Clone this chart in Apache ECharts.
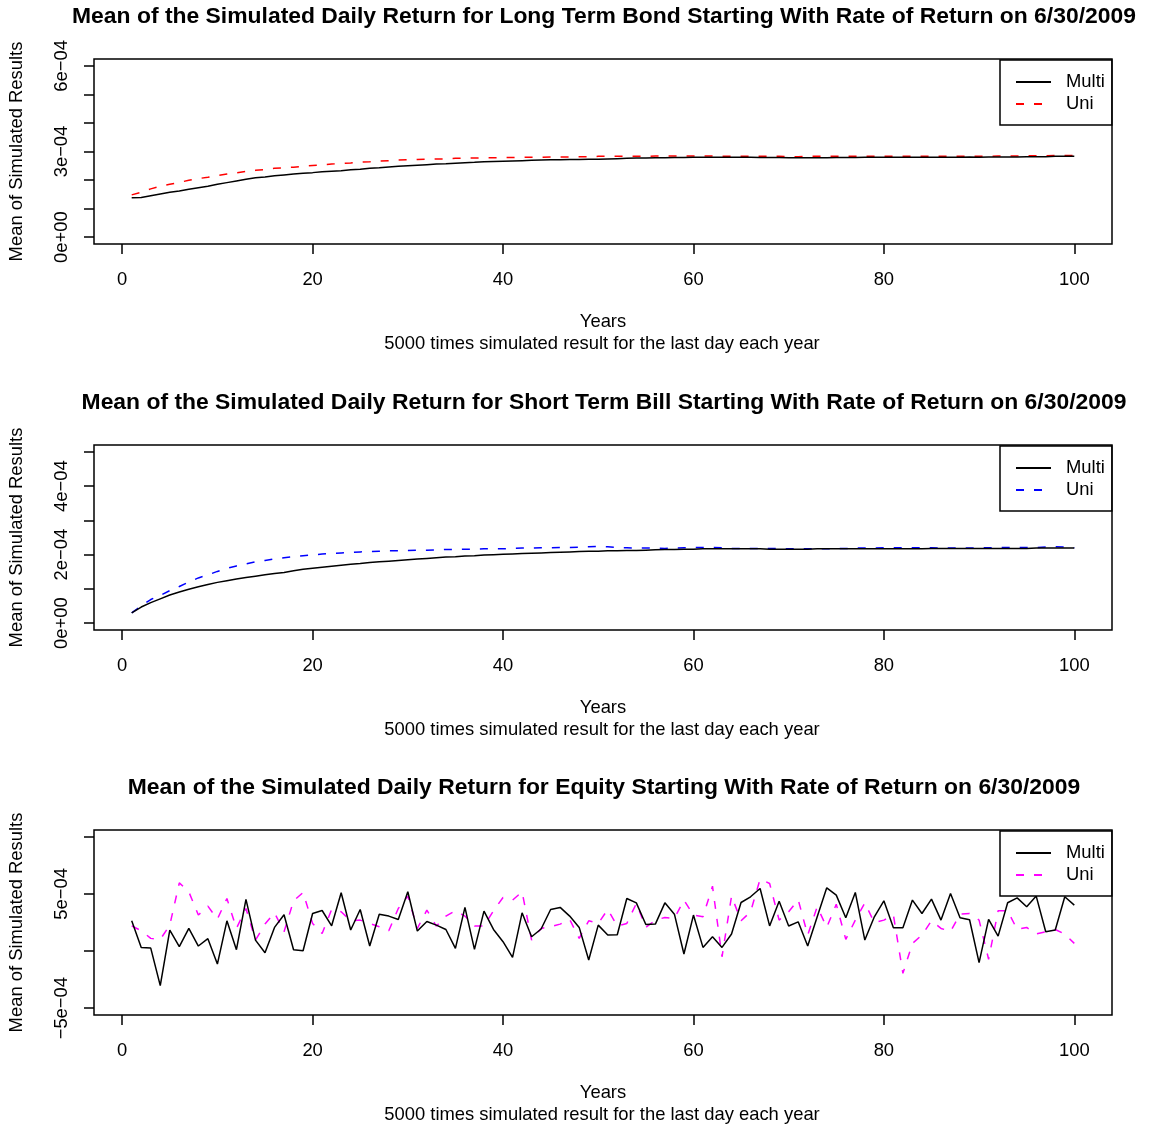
<!DOCTYPE html>
<html>
<head>
<meta charset="utf-8">
<script src="https://cdn.jsdelivr.net/npm/echarts@6/dist/echarts.min.js"></script>
<style>
  html, body { margin: 0; padding: 0; background: #fff; }
  #chart { width: 1150px; height: 1126px; }
</style>
</head>
<body>
<div id="chart"></div>
<script>
// Years (x categories)
const years = Array.from({ length: 100 }, (_, i) => i + 1);

// All series values are in units of 1e-4
const bondMulti = [
  1.38, 1.39, 1.45, 1.51, 1.57, 1.62, 1.68, 1.73, 1.78, 1.85,
  1.91, 1.97, 2.03, 2.08, 2.11, 2.15, 2.18, 2.21, 2.24, 2.26,
  2.29, 2.31, 2.33, 2.36, 2.38, 2.41, 2.43, 2.46, 2.48, 2.50,
  2.52, 2.54, 2.56, 2.57, 2.59, 2.61, 2.62, 2.64, 2.65, 2.66,
  2.67, 2.68, 2.69, 2.70, 2.71, 2.71, 2.72, 2.72, 2.73, 2.73,
  2.74, 2.75, 2.76, 2.77, 2.77, 2.78, 2.78, 2.79, 2.79, 2.80,
  2.80, 2.80, 2.80, 2.80, 2.80, 2.80, 2.79, 2.79, 2.79, 2.78,
  2.78, 2.78, 2.78, 2.78, 2.79, 2.79, 2.79, 2.80, 2.80, 2.80,
  2.80, 2.80, 2.80, 2.80, 2.80, 2.80, 2.80, 2.80, 2.81, 2.80,
  2.81, 2.81, 2.81, 2.81, 2.82, 2.82, 2.82, 2.83, 2.83, 2.83
];
const bondUni = [
  1.48, 1.57, 1.69, 1.78, 1.85, 1.92, 1.99, 2.05, 2.10, 2.16,
  2.21, 2.25, 2.30, 2.34, 2.37, 2.41, 2.43, 2.45, 2.48, 2.51,
  2.53, 2.56, 2.58, 2.60, 2.63, 2.64, 2.66, 2.68, 2.70, 2.71,
  2.72, 2.73, 2.74, 2.74, 2.76, 2.77, 2.77, 2.78, 2.78, 2.79,
  2.79, 2.80, 2.80, 2.80, 2.81, 2.81, 2.81, 2.82, 2.82, 2.83,
  2.83, 2.83, 2.83, 2.83, 2.83, 2.84, 2.84, 2.84, 2.84, 2.84,
  2.84, 2.84, 2.83, 2.83, 2.83, 2.83, 2.83, 2.83, 2.83, 2.82,
  2.82, 2.83, 2.83, 2.83, 2.83, 2.83, 2.83, 2.83, 2.83, 2.83,
  2.83, 2.83, 2.83, 2.83, 2.83, 2.83, 2.83, 2.83, 2.83, 2.83,
  2.83, 2.84, 2.84, 2.84, 2.85, 2.85, 2.85, 2.86, 2.86, 2.86
];
const billMulti = [
  0.30, 0.47, 0.60, 0.71, 0.82, 0.91, 0.99, 1.06, 1.13, 1.19,
  1.24, 1.29, 1.33, 1.37, 1.41, 1.45, 1.48, 1.53, 1.57, 1.60,
  1.63, 1.66, 1.69, 1.72, 1.74, 1.77, 1.79, 1.81, 1.83, 1.85,
  1.87, 1.89, 1.91, 1.93, 1.94, 1.96, 1.97, 1.99, 2.00, 2.01,
  2.02, 2.03, 2.04, 2.05, 2.06, 2.07, 2.08, 2.09, 2.10, 2.10,
  2.11, 2.11, 2.12, 2.12, 2.13, 2.14, 2.15, 2.15, 2.16, 2.16,
  2.17, 2.17, 2.17, 2.17, 2.17, 2.17, 2.17, 2.16, 2.16, 2.16,
  2.16, 2.16, 2.17, 2.17, 2.17, 2.17, 2.17, 2.17, 2.17, 2.17,
  2.17, 2.17, 2.17, 2.17, 2.18, 2.18, 2.18, 2.18, 2.18, 2.18,
  2.18, 2.18, 2.18, 2.18, 2.18, 2.19, 2.19, 2.19, 2.19, 2.19
];
const billUni = [
  0.30, 0.50, 0.69, 0.81, 0.95, 1.07, 1.20, 1.32, 1.41, 1.51,
  1.60, 1.67, 1.73, 1.79, 1.83, 1.88, 1.91, 1.94, 1.97, 1.99,
  2.02, 2.03, 2.05, 2.06, 2.08, 2.09, 2.10, 2.11, 2.11, 2.12,
  2.13, 2.13, 2.14, 2.15, 2.15, 2.16, 2.16, 2.17, 2.17, 2.17,
  2.18, 2.19, 2.19, 2.20, 2.20, 2.21, 2.21, 2.22, 2.23, 2.24,
  2.23, 2.21, 2.20, 2.19, 2.19, 2.19, 2.18, 2.19, 2.20, 2.21,
  2.21, 2.21, 2.20, 2.18, 2.18, 2.18, 2.18, 2.18, 2.18, 2.17,
  2.17, 2.17, 2.17, 2.17, 2.18, 2.18, 2.19, 2.19, 2.19, 2.20,
  2.20, 2.20, 2.20, 2.20, 2.20, 2.19, 2.19, 2.19, 2.19, 2.20,
  2.20, 2.21, 2.21, 2.21, 2.21, 2.21, 2.22, 2.23, 2.22, 2.20
];
const equityMulti = [
  2.65, 0.32, 0.26, -3.03, 1.84, 0.38, 1.98, 0.44, 1.08, -1.14,
  2.65, 0.12, 4.52, 0.96, -0.15, 2.07, 3.18, 0.12, 0.03, 3.29,
  3.55, 2.21, 5.10, 1.84, 3.64, 0.44, 3.23, 3.06, 2.77, 5.19,
  1.75, 2.59, 2.27, 1.89, 0.23, 3.82, 0.15, 3.50, 1.89, 0.82,
  -0.55, 3.35, 1.25, 1.93, 3.64, 3.82, 3.06, 2.07, -0.79, 2.27,
  1.40, 1.43, 4.60, 4.22, 2.33, 2.36, 4.22, 3.23, -0.26, 3.15,
  0.32, 1.25, 0.32, 1.49, 4.25, 4.75, 5.48, 2.20, 4.37, 2.19,
  2.56, 0.44, 3.00, 5.54, 4.90, 2.91, 5.13, 0.96, 3.00, 4.40,
  2.04, 2.04, 4.46, 3.29, 4.55, 2.71, 5.04, 2.92, 2.74, -1.02,
  2.77, 1.31, 4.23, 4.66, 3.88, 4.81, 1.69, 1.84, 4.75, 4.02
];
const equityUni = [
  2.21, 1.78, 1.11, 1.02, 2.27, 5.97, 5.19, 3.15, 3.93, 2.80,
  4.60, 1.98, 3.73, 0.96, 2.36, 3.35, 1.69, 4.40, 5.13, 2.42,
  1.54, 3.64, 3.44, 2.65, 2.71, 2.42, 2.13, 1.78, 3.73, 4.81,
  1.98, 3.58, 2.19, 3.06, 3.53, 3.06, 2.19, 2.19, 3.53, 4.69,
  4.46, 5.19, 0.96, 1.98, 2.13, 2.36, 2.77, 1.11, 2.65, 2.42,
  3.64, 2.19, 2.42, 4.16, 2.07, 2.71, 2.94, 2.86, 4.46, 3.15,
  3.00, 5.68, -0.50, 4.81, 2.65, 3.44, 6.30, 5.92, 2.71, 3.44,
  4.50, 1.40, 3.88, 2.07, 4.10, 1.02, 2.71, 4.22, 2.48, 2.71,
  3.15, -1.95, 0.67, 1.40, 2.65, 1.98, 1.72, 3.23, 3.29, 2.71,
  -0.72, 3.53, 3.53, 1.89, 2.07, 1.49, 1.69, 1.89, 1.49, 0.67
];

// Tick values / labels
const xTicks = [0, 20, 40, 60, 80, 100];
const bondYTicks = [0, 1, 2, 3, 4, 5, 6];
const bondYLabelValues = [0, 3, 6];
const bondYLabelText = ['0e+00', '3e\u221204', '6e\u221204'];
const billYTicks = [0, 1, 2, 3, 4, 5];
const billYLabelValues = [0, 2, 4];
const billYLabelText = ['0e+00', '2e\u221204', '4e\u221204'];
const equityYTicks = [-5, 0, 5, 10];
const equityYLabelValues = [-5, 5];
const equityYLabelText = ['\u22125e\u221204', '5e\u221204'];

const titles = [
  'Mean of the Simulated Daily Return for Long Term Bond Starting With Rate of Return on 6/30/2009',
  'Mean of the Simulated Daily Return for Short Term Bill Starting With Rate of Return on 6/30/2009',
  'Mean of the Simulated Daily Return for Equity Starting With Rate of Return on 6/30/2009'
];
const subCaption = '5000 times simulated result for the last day each year';
const xName = 'Years';
const yName = 'Mean of Simulated Results';

const FONT = 'Liberation Sans, Arial, Helvetica, sans-serif';
const FS = 18.4;

const panels = [
  { top: 59, multi: bondMulti, uni: bondUni, uniColor: '#FF0000', key: 'bond',
    ymin: -0.24, ymax: 6.24, ticks: bondYTicks, lv: bondYLabelValues, lt: bondYLabelText },
  { top: 445, multi: billMulti, uni: billUni, uniColor: '#0000FF', key: 'bill',
    ymin: -0.20, ymax: 5.20, ticks: billYTicks, lv: billYLabelValues, lt: billYLabelText },
  { top: 830, multi: equityMulti, uni: equityUni, uniColor: '#FF00FF', key: 'equity',
    ymin: -5.6, ymax: 10.6, ticks: equityYTicks, lv: equityYLabelValues, lt: equityYLabelText }
];

const option = {
  animation: false,
  backgroundColor: '#fff',
  textStyle: { fontFamily: FONT, color: '#000' },
  title: [],
  grid: [],
  xAxis: [],
  yAxis: [],
  legend: [],
  series: []
};

panels.forEach((p, i) => {
  option.title.push({
    text: titles[i], left: 604, top: p.top - 54, textAlign: 'center', padding: 0,
    textStyle: { fontSize: 22.9, fontWeight: 'bold', fontFamily: FONT, color: '#000' }
  });
  option.title.push({
    text: subCaption, left: 602, top: p.top + 276, textAlign: 'center', padding: 0,
    textStyle: { fontSize: FS, fontWeight: 'normal', fontFamily: FONT, color: '#000' }
  });
  option.grid.push({
    left: 91, top: p.top, width: 1021, height: 185,
    show: true, borderColor: '#000', borderWidth: 1.5, backgroundColor: 'transparent'
  });
  option.xAxis.push({
    gridIndex: i, type: 'value', min: -2.96, max: 103.96, position: 'bottom',
    splitLine: { show: false },
    axisLine: { show: false, onZero: false },
    axisTick: { show: true, inside: false, customValues: xTicks, length: 10, lineStyle: { color: '#000', width: 1.5 } },
    axisLabel: { customValues: xTicks, margin: 27, fontSize: FS, color: '#000', fontFamily: FONT },
    name: xName, nameLocation: 'middle', nameGap: 69,
    nameTextStyle: { fontSize: FS, color: '#000', fontFamily: FONT }
  });
  option.yAxis.push({
    gridIndex: i, type: 'value', min: p.ymin, max: p.ymax, position: 'left',
    splitLine: { show: false },
    axisLine: { show: false, onZero: false },
    axisTick: { show: true, inside: false, customValues: p.ticks, length: 10, lineStyle: { color: '#000', width: 1.5 } },
    axisLabel: {
      customValues: p.lv, rotate: 90, margin: 23, fontSize: FS, color: '#000', fontFamily: FONT,
      formatter: (v) => {
        let best = 0;
        p.lv.forEach((lv, k) => { if (Math.abs(lv - v) < Math.abs(p.lv[best] - v)) best = k; });
        return p.lt[best];
      }
    },
    name: yName, nameLocation: 'middle', nameGap: 68, nameRotate: 90,
    nameTextStyle: { fontSize: FS, color: '#000', fontFamily: FONT }
  });
  const multiName = p.key + '-Multi';
  const uniName = p.key + '-Uni';
  option.legend.push({
    orient: 'vertical', left: 1000, top: p.top + 1,
    data: [multiName, uniName],
    backgroundColor: '#fff', borderColor: '#000', borderWidth: 1.5, borderRadius: 0,
    padding: [13, 7, 12, 15], itemGap: 4, itemWidth: 35, itemHeight: 18,
    selectedMode: false,
    itemStyle: { opacity: 0 },
    formatter: (name) => '{t|' + name.split('-')[1] + '}',
    textStyle: {
      fontSize: FS, color: '#000', fontFamily: FONT,
      rich: { t: { fontSize: FS, color: '#000', fontFamily: FONT, padding: [0, 0, 0, 10] } }
    }
  });
  option.series.push({
    name: multiName, type: 'line', xAxisIndex: i, yAxisIndex: i,
    data: years.map((y, k) => [y, p.multi[k]]),
    symbol: 'none', showSymbol: false, color: '#000',
    lineStyle: { color: '#000', width: 1.5, type: 'solid' }, z: 3
  });
  option.series.push({
    name: uniName, type: 'line', xAxisIndex: i, yAxisIndex: i,
    data: years.map((y, k) => [y, p.uni[k]]),
    symbol: 'none', showSymbol: false, color: p.uniColor,
    lineStyle: { color: p.uniColor, width: 1.5, type: [8, 10] }, z: 2
  });
});

const chart = echarts.init(document.getElementById('chart'), null, { renderer: 'canvas' });
chart.setOption(option);
</script>
</body>
</html>
